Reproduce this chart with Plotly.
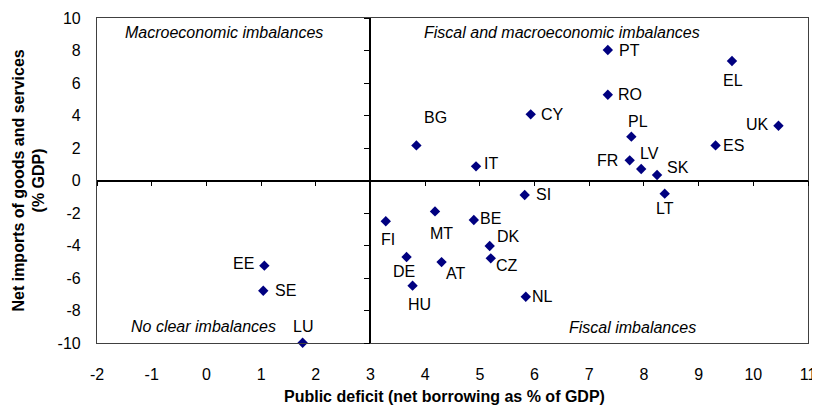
import plotly.graph_objects as go

# country codes, public deficit (% GDP) and net imports of goods and services (% GDP)
paises = ["PT", "EL", "RO", "CY", "BG", "PL", "UK", "ES", "IT", "FR", "LV", "SK",
          "SI", "LT", "MT", "BE", "DK", "CZ", "AT", "NL", "HU", "DE", "FI", "EE", "SE", "LU"]
deficit = [7.34, 9.61, 7.34, 5.93, 3.84, 7.77, 10.46, 9.31, 4.93, 7.74, 7.95, 8.24,
           5.82, 8.38, 4.18, 4.89, 5.18, 5.20, 4.30, 5.84, 3.77, 3.66, 3.28, 1.06, 1.04, 1.76]
importacoes = [8.03, 7.35, 5.28, 4.07, 2.16, 2.70, 3.37, 2.16, 0.87, 1.24, 0.71, 0.34,
               -0.89, -0.81, -1.90, -2.43, -4.03, -4.79, -5.02, -7.15, -6.47, -4.71, -2.51, -5.24, -6.78, -9.98]

x_ticks = list(range(-2, 12))
y_ticks = list(range(-10, 11, 2))

# deslocamento do rotulo de cada pais em pixels (dx, dy para baixo)
desloc = {
    "PT": (22, 0), "EL": (1, 19), "RO": (22, 0), "CY": (22, 0), "BG": (19, -28),
    "PL": (7, -15), "UK": (-21, -1), "ES": (18, 0), "IT": (15, -3), "FR": (-22, 0),
    "LV": (8, -15), "SK": (21, -7), "SI": (19, 0), "LT": (0, 15), "MT": (6, 22),
    "BE": (17, -1), "DK": (19, -9), "CZ": (16, 7), "AT": (14, 11), "NL": (17, 0),
    "HU": (7, 19), "DE": (-3, 14), "FI": (2, 18), "EE": (-21, -2), "SE": (22, 0),
    "LU": (0, -16),
}

quadrantes = ["Macroeconomic imbalances", "Fiscal and macroeconomic imbalances",
              "No clear imbalances", "Fiscal imbalances"]
quadrante_x = [0.32, 6.51, -0.05, 7.79]
quadrante_y = [9.08, 9.08, -9.0, -9.06]

fonte = "Liberation Sans, Arial, sans-serif"

fig = go.Figure()
fig.add_trace(go.Scatter(
    x=deficit, y=importacoes, mode="markers",
    marker=dict(symbol="diamond", size=8, color="#000080"),
    showlegend=False, cliponaxis=False,
))
# trace vazio so para desenhar os eixos centrais
fig.add_trace(go.Scatter(x=[3], y=[0], xaxis="x2", yaxis="y2", mode="markers",
                         marker=dict(opacity=0), showlegend=False, hoverinfo="skip"))

for p, xv, yv in zip(paises, deficit, importacoes):
    dx, dy = desloc[p]
    fig.add_annotation(x=xv, y=yv, text=p, showarrow=False, xshift=dx, yshift=-dy,
                       font=dict(family=fonte, size=16, color="black"))

for txt, qx, qy in zip(quadrantes, quadrante_x, quadrante_y):
    fig.add_annotation(x=qx, y=qy, text=txt, showarrow=False,
                       font=dict(family=fonte, size=16, color="black", style="italic"))

fig.add_annotation(xref="paper", yref="paper", x=0.489, y=-0.165,
                   xanchor="center", yanchor="middle",
                   text="<b>Public deficit (net borrowing as % of GDP)</b>", showarrow=False,
                   font=dict(family=fonte, size=16, color="black"))
fig.add_annotation(xref="paper", yref="paper", x=-0.097, y=0.5, textangle=-90,
                   xanchor="center", yanchor="middle",
                   text="<b>Net imports of goods and services<br>(% GDP)</b>", showarrow=False,
                   font=dict(family=fonte, size=16, color="black"))

eixo_comum = dict(showgrid=False, zeroline=False, linecolor="#404040", linewidth=1.2,
                  automargin=False, tickfont=dict(family=fonte, size=16, color="black"))

# a pagina tem margem de 8px, por isso a figura e um pouco menor que a janela
fig.update_layout(
    width=812, height=398,
    margin=dict(t=10, b=63, l=89, r=12),
    paper_bgcolor="white",
    plot_bgcolor="white",
    xaxis=dict(range=[-2, 11], tickmode="array", tickvals=x_ticks,
               ticktext=[str(v) for v in x_ticks], showline=True, mirror=True, ticks="",
               ticklabelstandoff=17, domain=[0, 1], **eixo_comum),
    yaxis=dict(range=[-10, 10], tickmode="array", tickvals=y_ticks,
               ticktext=[str(v) for v in y_ticks], showline=True, mirror=True, ticks="",
               ticklabelstandoff=12, domain=[0, 1], **eixo_comum),
    xaxis2=dict(range=[-2, 11], dtick=1, overlaying="x", anchor="free", position=0.5,
                showline=True, linecolor="black", linewidth=1.5, ticks="outside",
                ticklen=5, tickcolor="black", showticklabels=False, showgrid=False,
                zeroline=False),
    yaxis2=dict(range=[-10, 10], dtick=2, overlaying="y", anchor="free", position=5 / 13,
                side="left", showline=True, linecolor="black", linewidth=1.5,
                ticks="outside", ticklen=6, tickcolor="black", showticklabels=False,
                showgrid=False, zeroline=False),
)

fig.write_html("out.html")
